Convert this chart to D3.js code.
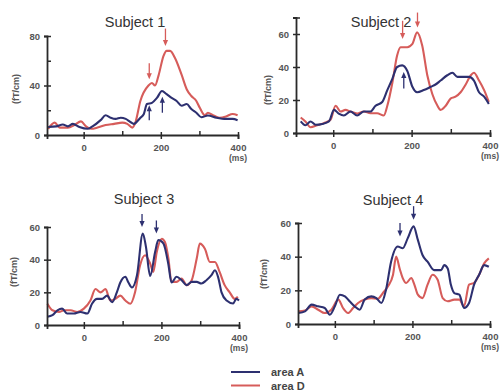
<!DOCTYPE html>
<html>
<head>
<meta charset="utf-8">
<script src="https://cdn.jsdelivr.net/npm/d3@7"></script>
<style>
  body { margin: 0; background: #fff; }
  svg { font-family: "Liberation Sans", Arial, sans-serif; }
</style>
</head>
<body>
<svg id="chart" width="502" height="391"></svg>
<script>
const colorA = "#2d3070";
const colorD = "#d65c5a";
const inkColor = "#2a2a2a";

const xTicks = [0, 100, 200, 300, 400];
const xLabels = [0, 200, 400];

// Subject 1
const s1TimeA = [-92,-71,-54,-41,-28,-11,10,23,44,57,70,83,96,109,121,130,147,156,164,177,190,203,215,228,241,254,267,279,292,305,322,344,369,386,399];
const s1AreaA = [6.5,7,8.5,7,9,6.5,5,7,12,16,14,13,14,13,10.5,9,14,17,25,26,30,35.5,33,30,27.5,23.6,25,21,18,14.4,15.7,14,13,13,12];
const s1TimeD = [-92,-75,-62,-41,-24,-7,6,19,36,57,79,100,113,126,134,147,168,177,185,194,207,215,224,237,254,267,279,292,301,314,322,335,352,369,386,399];
const s1AreaD = [5,10,6,6,8,11,7,5,6,8,9,10,9,6,10,27.5,40,42,40,48,64,68,68,62,48.5,37,31.5,27.5,22,16,18,16,14,15,17,16];
const s1ArrowsA = [[170, 24, 12], [204, 31, 18]];
const s1ArrowsD = [[170, 45, 58], [212, 72, 86]];

// Subject 2
const s2TimeA = [-96,-83,-71,-58,-45,-28,-11,2,14,27,44,61,78,95,108,125,138,151,163,176,189,202,214,231,249,261,274,291,304,317,334,346,359,372,385,397];
const s2AreaA = [6,7,4.7,7,5,5.5,7,14,11.8,10.6,13,10.6,13,13,16.5,18.8,26,33,40,41,37.6,28,24.7,26,28,29.4,31.8,35,36.5,34,34,34,31.8,24.7,22,17.6];
const s2TimeD = [-96,-83,-71,-58,-41,-24,-7,6,19,31,44,61,78,95,112,129,138,151,163,172,189,202,214,227,240,253,266,274,287,300,312,325,338,351,359,372,385,397];
const s2AreaD = [8,9.4,7,3.5,4.7,6,8,16.5,13,14,13,11.8,13,12,12,10.6,16.5,30.6,47,52,52,54,61,53,35,23.5,16.5,14,16.5,21,22,24.7,29.4,35,36.5,31.8,26,18.8];
const s2ArrowsA = [[180, 37, 27]];
const s2ArrowsD = [[177, 57, 68], [215, 64, 73]];

// Subject 3
const s3TimeA = [-94,-81,-68,-56,-43,-26,-9,9,21,34,47,60,73,85,94,107,115,124,137,152,160,171,184,192,205,218,226,239,252,265,278,291,303,316,329,338,346,355,368,385,393,400];
const s3AreaA = [5,6,9,10,7,7,8,7,13,16,16,18,14,20,26,29.5,26,23,30.5,56,48,30,45,52,50,37,26,29.5,27.5,24.4,26.4,26.4,25.4,27.4,30.5,33.5,29.5,20,15,13.2,16,15];
const s3TimeD = [-94,-81,-64,-51,-34,-17,0,17,30,43,56,68,81,94,107,120,132,145,158,171,179,188,201,209,218,226,239,252,265,278,291,299,312,325,338,350,363,376,389,397];
const s3AreaD = [13,9,8,9,9,8,10,15,22,20,22,15,16,18,15,13,20,36.6,42.7,37.6,32.5,44.7,52.8,50.8,40.7,26.4,26.4,28.5,24.4,27.4,40.7,49.8,46.7,38.6,38.6,32.5,24.4,20,16,17.3];
const s3ArrowsA = [[150, 60, 68], [187, 56, 64]];
const s3ArrowsD = [];

// Subject 4
const s4TimeA = [-94,-77,-60,-43,-26,-13,0,13,26,38,51,64,77,94,107,120,132,145,162,175,188,203,214,226,239,256,274,282,291,299,308,321,333,346,359,372,385,397];
const s4AreaA = [6.5,7.5,11.5,10.5,9.5,5.5,10.5,17.4,16.4,13.5,10.5,8.5,14.5,16.4,15.4,12.5,20.4,37,46,45,51,58,50,41,37,32,32,35,33,23.4,18.4,17.4,9.5,12.5,23.4,29.3,35,34];
const s4TimeD = [-94,-77,-60,-43,-26,-9,9,21,34,47,60,77,94,111,124,137,150,158,167,175,184,197,205,214,226,239,252,265,278,291,308,321,333,346,359,372,385,397];
const s4AreaD = [7.5,8,10.5,8.5,6.5,8.5,14.5,9.5,6.5,9.5,12.5,14.5,15.4,15,18.4,22.4,29.3,40,33,27.3,24.4,27.3,23.4,17.4,15.4,23.4,29.3,26.3,15.4,13.5,14.5,14.5,10.5,23.4,24.4,29.3,36,39];
const s4ArrowsA = [[168, 52, 60], [203, 62, 70]];
const s4ArrowsD = [];

const legendNames = ["area A", "area D"];

const panels = [
  {title: "Subject 1", timeA: s1TimeA, valA: s1AreaA, timeD: s1TimeD, valD: s1AreaD,
   arrowsA: s1ArrowsA, arrowsD: s1ArrowsD, yMax: 80, yTicks: [0,20,40,60,80], yLabels: [0,40,80],
   left: 47, right: 238, bottom: 135, top: 36, titleX: 135, titleY: 27, labelX: 19, labelY: 89},
  {title: "Subject 2", timeA: s2TimeA, valA: s2AreaA, timeD: s2TimeD, valD: s2AreaD,
   arrowsA: s2ArrowsA, arrowsD: s2ArrowsD, yMax: 70, yTicks: [0,20,40,60,70], yLabels: [0,20,40,60],
   left: 296, right: 490, bottom: 133, top: 34, titleX: 381, titleY: 27, labelX: 271, labelY: 90},
  {title: "Subject 3", timeA: s3TimeA, valA: s3AreaA, timeD: s3TimeD, valD: s3AreaD,
   arrowsA: s3ArrowsA, arrowsD: s3ArrowsD, yMax: 60, yTicks: [0,20,40,60], yLabels: [0,20,40,60],
   left: 47, right: 239, bottom: 325, top: 227, titleX: 144, titleY: 204, labelX: 17, labelY: 272},
  {title: "Subject 4", timeA: s4TimeA, valA: s4AreaA, timeD: s4TimeD, valD: s4AreaD,
   arrowsA: s4ArrowsA, arrowsD: s4ArrowsD, yMax: 60, yTicks: [0,20,40,60], yLabels: [0,20,40,60],
   left: 298, right: 490, bottom: 324, top: 223, titleX: 393, titleY: 205, labelX: 267, labelY: 274}
];

const svg = d3.select("#chart");

function drawArrows(g, list, xScale, yScale, color) {
  list.forEach(a => {
    const x = xScale(a[0]);
    const yTip = yScale(a[1]);
    const yTail = yScale(a[2]);
    const dir = yTail < yTip ? 1 : -1; // 1 = points down
    g.append("line")
      .attr("x1", x).attr("x2", x)
      .attr("y1", yTail).attr("y2", yTip - dir * 3)
      .attr("stroke", color)
      .attr("stroke-width", 1.3);
    g.append("path")
      .attr("d", `M${x - 2.6},${yTip - dir * 6}L${x + 2.6},${yTip - dir * 6}L${x},${yTip}Z`)
      .attr("fill", color);
  });
}

function drawPanel(p) {
  const xScale = d3.scaleLinear().domain([-95, 400]).range([p.left, p.right]);
  const yScale = d3.scaleLinear().domain([0, p.yMax]).range([p.bottom, p.bottom - (p.bottom - p.top) * p.yMax / d3.max(p.yLabels)]);

  const g = svg.append("g");

  const line = d3.line()
    .x(d => xScale(d[0]))
    .y(d => yScale(d[1]))
    .curve(d3.curveMonotoneX);

  const seriesA = p.timeA.map((t, i) => [t, p.valA[i]]).filter(d => d[0] >= -95);
  const seriesD = p.timeD.map((t, i) => [t, p.valD[i]]).filter(d => d[0] >= -95);

  g.append("path").datum(seriesD)
    .attr("fill", "none").attr("stroke", colorD).attr("stroke-width", 2.1)
    .attr("stroke-linejoin", "round").attr("d", line);
  g.append("path").datum(seriesA)
    .attr("fill", "none").attr("stroke", colorA).attr("stroke-width", 2.1)
    .attr("stroke-linejoin", "round").attr("d", line);

  drawArrows(g, p.arrowsD, xScale, yScale, colorD);
  drawArrows(g, p.arrowsA, xScale, yScale, colorA);

  // x axis
  const xAxis = d3.axisBottom(xScale)
    .tickValues(xTicks)
    .tickSizeOuter(0)
    .tickSize(4)
    .tickPadding(5)
    .tickFormat(d => xLabels.includes(d) ? d : "");
  const xg = g.append("g")
    .attr("transform", `translate(0, ${p.bottom})`)
    .call(xAxis);
  xg.select(".domain").attr("stroke", inkColor).attr("stroke-width", 1.8);
  xg.selectAll(".tick line")
    .attr("stroke", inkColor).attr("stroke-width", 1.5)
    .attr("y1", d => xLabels.includes(d) ? -3 : -4)
    .attr("y2", d => xLabels.includes(d) ? 4 : 0);
  xg.selectAll(".tick text")
    .attr("fill", "#555").style("font-size", "9.5px").style("font-weight", "bold");
  xg.append("text")
    .attr("x", xScale(400)).attr("y", 26)
    .attr("text-anchor", "middle")
    .attr("fill", "#555").style("font-size", "8.5px").style("font-weight", "bold")
    .text("(ms)");

  // y axis
  const yAxis = d3.axisLeft(yScale)
    .tickValues(p.yTicks)
    .tickSizeOuter(0)
    .tickSize(3)
    .tickPadding(4)
    .tickFormat(d => p.yLabels.includes(d) ? d : "");
  const yg = g.append("g")
    .attr("transform", `translate(${p.left}, 0)`)
    .call(yAxis);
  yg.select(".domain").attr("stroke", inkColor).attr("stroke-width", 1.8);
  yg.selectAll(".tick line")
    .attr("stroke", inkColor).attr("stroke-width", 1.5)
    .attr("x1", d => p.yLabels.includes(d) && d !== 0 ? -3 : 0)
    .attr("x2", d => d === 0 ? -3 : 4);
  yg.selectAll(".tick text")
    .attr("fill", "#555").style("font-size", "9.5px").style("font-weight", "bold");

  // axis label
  g.append("text")
    .attr("transform", `translate(${p.labelX}, ${p.labelY}) rotate(-90)`)
    .attr("text-anchor", "middle")
    .attr("fill", "#555").style("font-size", "9px").style("font-weight", "bold")
    .text("(fT/cm)");

  // title
  g.append("text")
    .attr("x", p.titleX).attr("y", p.titleY)
    .attr("text-anchor", "middle")
    .attr("fill", "#333").style("font-size", "14.5px")
    .text(p.title);
}

panels.forEach(drawPanel);

// legend
const legend = svg.append("g").attr("transform", "translate(231, 372)");
const legendColors = [colorA, colorD];
legendNames.forEach((name, i) => {
  legend.append("line")
    .attr("x1", 0).attr("x2", 29)
    .attr("y1", i * 13.5).attr("y2", i * 13.5)
    .attr("stroke", legendColors[i]).attr("stroke-width", 2);
  legend.append("text")
    .attr("x", 40).attr("y", i * 13.5 + 4)
    .attr("fill", "#444").style("font-size", "11px").style("font-weight", "bold")
    .text(name);
});
</script>
</body>
</html>
